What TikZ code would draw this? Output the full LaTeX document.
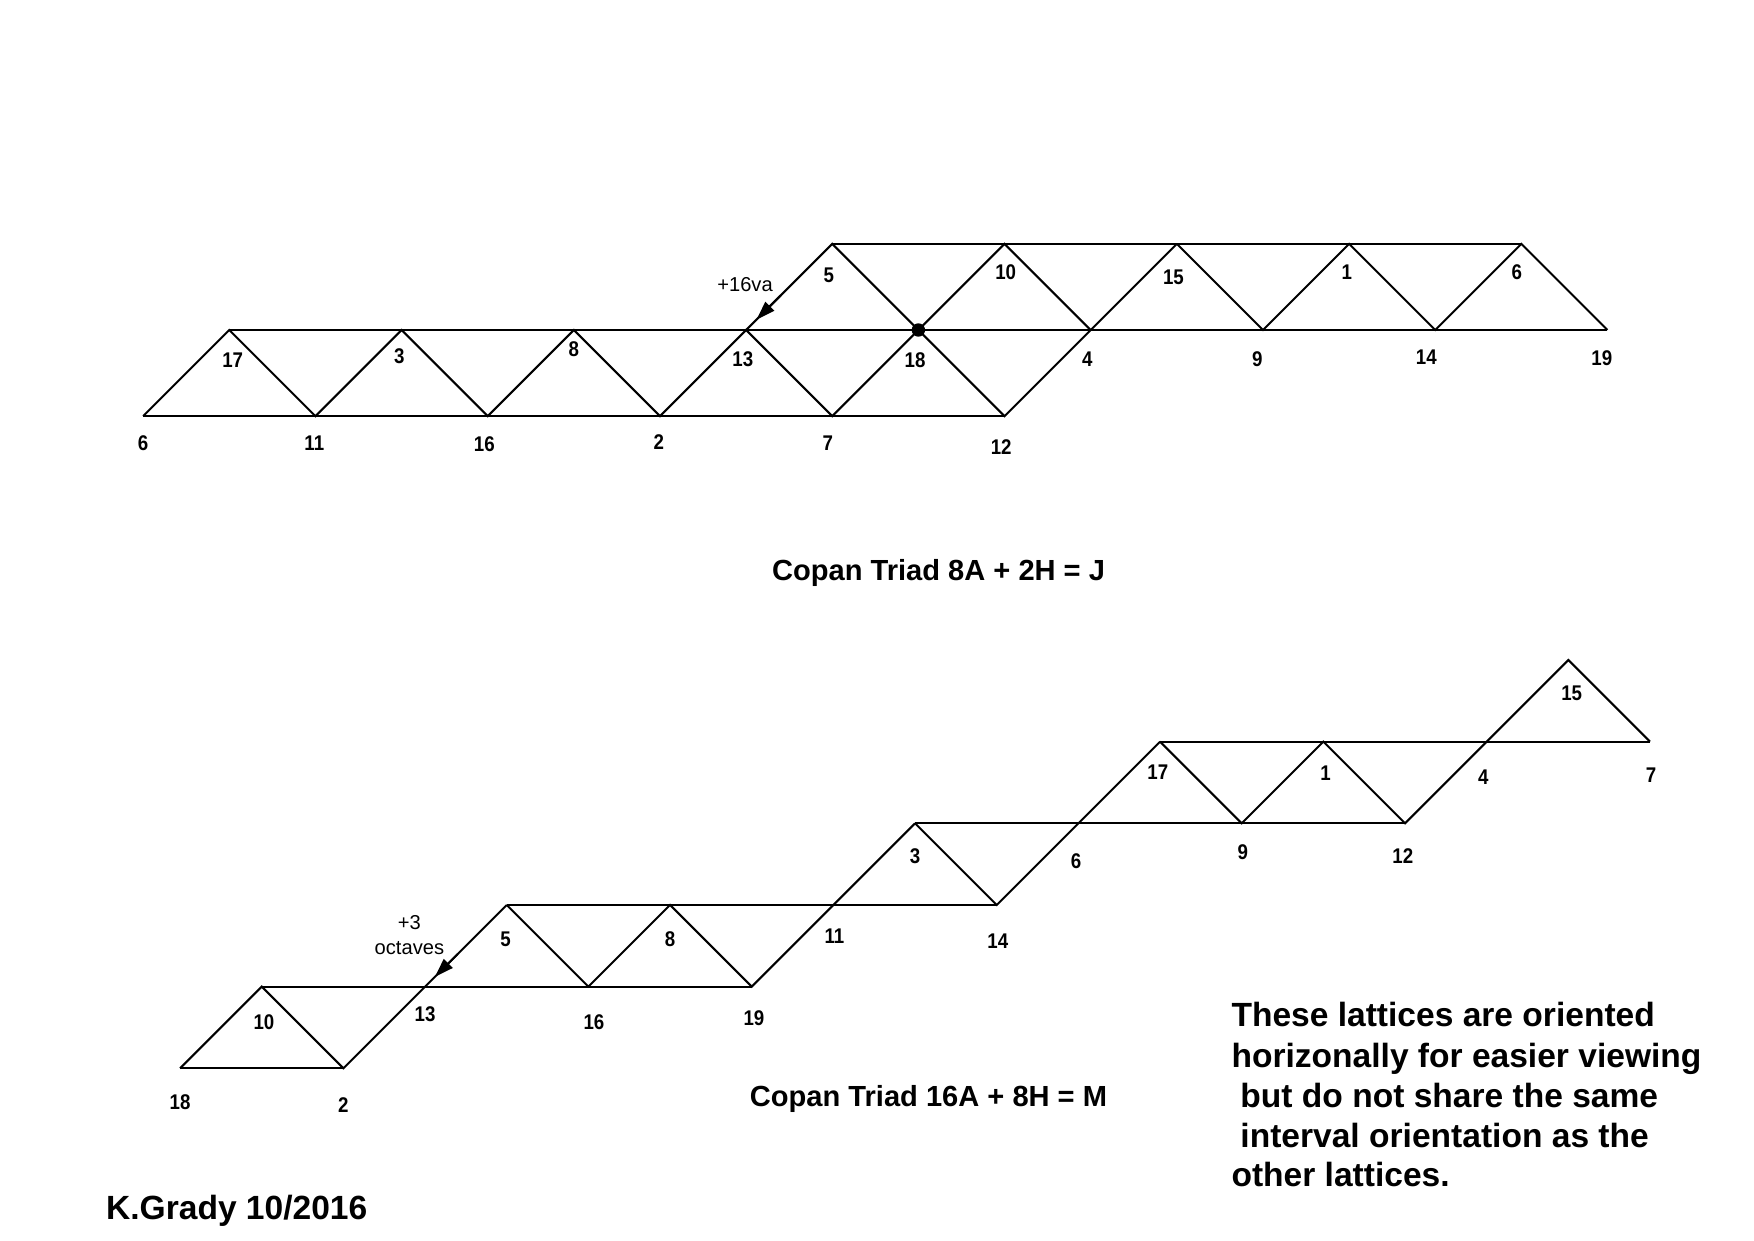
\documentclass[tikz,border=0pt]{standalone}
\usepackage{fontspec}
\setmainfont{Liberation Sans}
\newfontfamily\labfont[FakeStretch=0.88]{Liberation Sans}
\usetikzlibrary{calc,arrows.meta}
\begin{document}
\begin{tikzpicture}[x=1pt,y=-1pt,line width=1.8pt,line join=miter,
  lbl/.style={font=\labfont\fontsize{19}{22}\selectfont\bfseries,inner sep=0pt},
  ann/.style={font=\fontsize{18}{23}\selectfont,inner sep=0pt,align=center},
  ttl/.style={font=\fontsize{26}{30}\selectfont\bfseries,inner sep=0pt,anchor=base},
  para/.style={font=\fontsize{30}{36}\selectfont\bfseries,inner sep=0pt,anchor=base west},
  arr/.style={-{Triangle[length=17pt,width=11pt]},line width=1.8pt},
  dot/.style={circle,fill=black,inner sep=0pt,minimum size=12pt}]
\useasboundingbox (0,0) rectangle (1568,1109);
\fill[white] (0,0) rectangle (1568,1109);

% ---------- top lattice ----------
\coordinate (tA6)  at (128,372);
\coordinate (tA11) at (282,372);
\coordinate (tA16) at (436,372);
\coordinate (tA2)  at (590,372);
\coordinate (tA7)  at (744,372);
\coordinate (tA12) at (898,372);
\coordinate (tB17) at (205,295);
\coordinate (tB3)  at (359,295);
\coordinate (tB8)  at (513,295);
\coordinate (tB13) at (667,295);
\coordinate (tB18) at (821,295);
\coordinate (tB4)  at (975,295);
\coordinate (tB9)  at (1129,295);
\coordinate (tB14) at (1283,295);
\coordinate (tB19) at (1437,295);
\coordinate (tC5)  at (744,218);
\coordinate (tC10) at (898,218);
\coordinate (tC15) at (1052,218);
\coordinate (tC1)  at (1206,218);
\coordinate (tC6)  at (1360,218);

\draw (tA6) -- (tA12);
\draw (tB17) -- (tB19);
\draw (tC5) -- (tC6);
\draw (tA6) -- (tB17) -- (tA11) -- (tB3) -- (tA16) -- (tB8) -- (tA2) -- (tB13)
      -- (tA7) -- (tB18) -- (tA12) -- (tB4) -- (tC15);
\draw (tB13) -- (tC5) -- (tB18) -- (tC10) -- (tB4);
\draw (tC15) -- (tB9) -- (tC1) -- (tB14) -- (tC6) -- (tB19);
\draw[arr] ($(tB13)!0.40!(tC5)$) -- ($(tB13)!0.12!(tC5)$);
\node[dot] (dot18) at (tB18) {};

\node[lbl] (ltA6)  at (128,396) {6};
\node[lbl] (ltA11) at (281,396) {11};
\node[lbl] (ltA16) at (433,397) {16};
\node[lbl] (ltA2)  at (589,395) {2};
\node[lbl] (ltA7)  at (740,396) {7};
\node[lbl] (ltA12) at (895,400) {12};
\node[lbl] (ltB17) at (208,322) {17};
\node[lbl] (ltB3)  at (357,318) {3};
\node[lbl] (ltB8)  at (513,312) {8};
\node[lbl] (ltB13) at (664,321) {13};
\node[lbl] (ltB18) at (818,322) {18};
\node[lbl] (ltB4)  at (972,321) {4};
\node[lbl] (ltB9)  at (1124,321) {9};
\node[lbl] (ltB14) at (1275,319) {14};
\node[lbl] (ltB19) at (1432,320) {19};
\node[lbl] (ltC5)  at (741,246) {5};
\node[lbl] (ltC10) at (899,243) {10};
\node[lbl] (ltC15) at (1049,248) {15};
\node[lbl] (ltC1)  at (1204,243) {1};
\node[lbl] (ltC6)  at (1356,243) {6};
\node[ann] (t16va) at (666,254) {+16va};

\node[ttl] (title1) at (839,519) {Copan Triad 8A + 2H = J};

% ---------- bottom lattice ----------
\coordinate (b18) at (161,955);
\coordinate (b10) at (234,882);
\coordinate (b2)  at (307,955);
\coordinate (b13) at (380,882);
\coordinate (b5)  at (453,809);
\coordinate (b16) at (526,882);
\coordinate (b8)  at (599,809);
\coordinate (b19) at (672,882);
\coordinate (b11) at (745,809);
\coordinate (b3)  at (818,736);
\coordinate (b14) at (891,809);
\coordinate (b6)  at (964,736);
\coordinate (b17) at (1037,663);
\coordinate (b9)  at (1110,736);
\coordinate (b1)  at (1183,663);
\coordinate (b12) at (1256,736);
\coordinate (b4)  at (1329,663);
\coordinate (b15) at (1402,590);
\coordinate (b7)  at (1475,663);

\draw (b18) -- (b2);
\draw (b18) -- (b10) -- (b2) -- (b13) -- (b5);
\draw (b10) -- (b19);
\draw (b5) -- (b16) -- (b8) -- (b19) -- (b11) -- (b3);
\draw (b5) -- (b14);
\draw (b3) -- (b14) -- (b6) -- (b17);
\draw (b3) -- (b12);
\draw (b17) -- (b9) -- (b1) -- (b12) -- (b4) -- (b15) -- (b7);
\draw (b17) -- (b7);
\draw[arr] ($(b13)!0.40!(b5)$) -- ($(b13)!0.12!(b5)$);

\node[lbl] (lb18) at (161,985) {18};
\node[lbl] (lb2)  at (307,988) {2};
\node[lbl] (lb10) at (236,914) {10};
\node[lbl] (lb13) at (380,907) {13};
\node[lbl] (lb16) at (531,914) {16};
\node[lbl] (lb19) at (674,910) {19};
\node[lbl] (lb5)  at (452,840) {5};
\node[lbl] (lb8)  at (599,840) {8};
\node[lbl] (lb11) at (746,837) {11};
\node[lbl] (lb14) at (892,841) {14};
\node[lbl] (lb3)  at (818,765) {3};
\node[lbl] (lb6)  at (962,770) {6};
\node[lbl] (lb9)  at (1111,762) {9};
\node[lbl] (lb12) at (1254,765) {12};
\node[lbl] (lb17) at (1035,690) {17};
\node[lbl] (lb1)  at (1185,691) {1};
\node[lbl] (lb4)  at (1326,695) {4};
\node[lbl] (lb7)  at (1476,693) {7};
\node[lbl] (lb15) at (1405,620) {15};
\node[ann] (boct) at (366,836) {+3\\octaves};

\node[ttl] (title2) at (830,989) {Copan Triad 16A + 8H = M};

% ---------- notes ----------
\node[para] (p1) at (1100,918) {These lattices are oriented};
\node[para] (p2) at (1100,954) {horizonally for easier viewing};
\node[para] (p3) at (1108,990) {but do not share the same};
\node[para] (p4) at (1108,1026) {interval orientation as the};
\node[para] (p5) at (1100,1061) {other lattices.};
\node[para] (author) at (94,1090) {K.Grady 10/2016};
\end{tikzpicture}
\end{document}
